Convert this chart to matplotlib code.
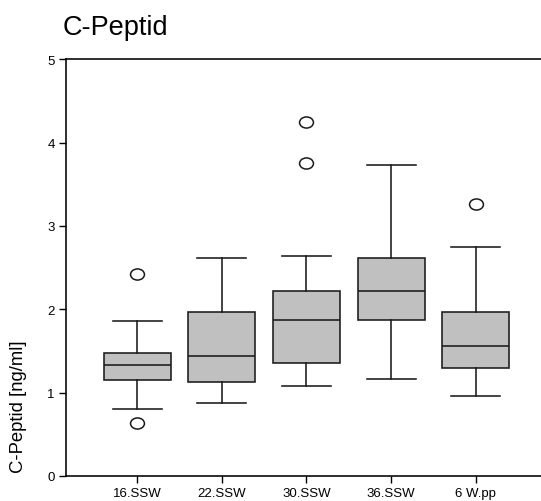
import matplotlib
matplotlib.use("Agg")
import matplotlib.pyplot as plt
from matplotlib.path import Path
from matplotlib.transforms import Affine2D

plt.rcParams['font.family'] = ['Liberation Sans', 'DejaVu Sans']

groups = ["16.SSW", "22.SSW", "30.SSW", "36.SSW", "6 W.pp"]
q1 = [1.15, 1.13, 1.36, 1.87, 1.30]
med = [1.33, 1.44, 1.87, 2.22, 1.56]
q3 = [1.48, 1.97, 2.22, 2.61, 1.97]
whislo = [0.80, 0.88, 1.08, 1.16, 0.96]
whishi = [1.86, 2.62, 2.64, 3.73, 2.75]
fliers = [[2.42, 0.64], [], [4.25, 3.76], [], [3.26]]

stats = []
for i, g in enumerate(groups):
    stats.append(dict(label=g, q1=q1[i], med=med[i], q3=q3[i],
                      whislo=whislo[i], whishi=whishi[i], fliers=fliers[i]))

# slightly flattened circle for the outliers
oval = Path.unit_circle().transformed(Affine2D().scale(1.0, 0.8))

fig = plt.figure(figsize=(5.41, 5.02), dpi=100)
ax = fig.add_axes([0.122, 0.05, 0.878, 0.83])

lw = 1.15
dark = '#1a1a1a'
ax.bxp(stats, positions=range(1, 6), widths=0.79, patch_artist=True,
       boxprops=dict(facecolor='#c0c0c0', edgecolor=dark, linewidth=lw),
       medianprops=dict(color=dark, linewidth=lw),
       whiskerprops=dict(color=dark, linewidth=lw),
       capprops=dict(color=dark, linewidth=lw),
       capwidths=0.58,
       flierprops=dict(marker=oval, markerfacecolor='none', markeredgecolor=dark,
                       markersize=10, markeredgewidth=1.1))

ax.set_xlim(0.16, 5.77)
ax.set_ylim(0, 5)
ax.set_yticks([0, 1, 2, 3, 4, 5])
ax.spines['right'].set_visible(False)
for s in ['left', 'top', 'bottom']:
    ax.spines[s].set_linewidth(1.15)
ax.tick_params(direction='out', length=5, width=1, labelsize=9.5, pad=3)

fig.text(19 / 541, 1 - 407 / 502, "C-Peptid [ng/ml]", rotation=90,
         ha='center', va='center', fontsize=13.3)
fig.text(63 / 541, 1 - 35 / 502, "C-Peptid", ha='left', va='baseline', fontsize=19.5)

fig.savefig("out.png", dpi=100)
